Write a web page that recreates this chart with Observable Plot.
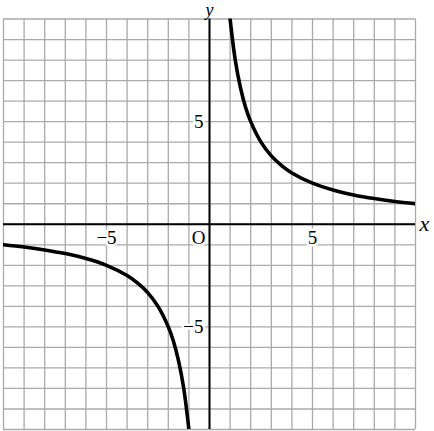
<!DOCTYPE html>
<html>
<head>
<meta charset="utf-8">
<script src="https://cdn.jsdelivr.net/npm/d3@7"></script>
<script src="https://cdn.jsdelivr.net/npm/@observablehq/plot@0.6"></script>
<style>
  html, body { margin: 0; padding: 0; background: #fff; }
</style>
</head>
<body>
<div id="chart"></div>
<script>
// Grid lines (unit squares)
const gridTicks = d3.range(-10, 11);

// Curve readings (right branch)
const rightX = [1, 1.25, 1.5, 1.75, 2, 2.5, 3, 3.5, 4, 5, 6, 7, 8, 9, 10];
const rightY = [10, 8, 6.67, 5.7, 5, 4, 3.33, 2.86, 2.5, 2, 1.67, 1.43, 1.25, 1.11, 1];
// Curve readings (left branch)
const leftX = [-10, -9, -8, -7, -6, -5, -4, -3.5, -3, -2.5, -2, -1.75, -1.5, -1.25, -1];
const leftY = [-1, -1.11, -1.25, -1.43, -1.67, -2, -2.5, -2.86, -3.33, -4, -5, -5.7, -6.67, -8, -10];

// Tick labels
const xTickValues = [-5, 5];
const xTickLabels = ["−5", "5"];
const yTickValues = [5, -5];
const yTickLabels = ["5", "−5"];

const rightBranch = rightX.map((x, i) => ({x, y: rightY[i]}));
const leftBranch = leftX.map((x, i) => ({x, y: leftY[i]}));
const xTicks = xTickValues.map((v, i) => ({v, label: xTickLabels[i]}));
const yTicks = yTickValues.map((v, i) => ({v, label: yTickLabels[i]}));

const serif = "'Liberation Serif', 'DejaVu Serif', serif";

const chart = Plot.plot({
  width: 434,
  height: 431,
  marginLeft: 3,
  marginRight: 19,
  marginTop: 18.5,
  marginBottom: 2,
  x: {domain: [-10, 10], axis: null},
  y: {domain: [-10, 10], axis: null},
  style: {background: "#fff", fontFamily: serif},
  marks: [
    Plot.ruleX(gridTicks, {stroke: "#aaaaaa", strokeWidth: 1.3}),
    Plot.ruleY(gridTicks, {stroke: "#aaaaaa", strokeWidth: 1.3}),
    Plot.ruleX([0], {stroke: "#000", strokeWidth: 2}),
    Plot.ruleY([0], {stroke: "#000", strokeWidth: 2}),
    Plot.line(rightBranch, {x: "x", y: "y", curve: "catmull-rom", stroke: "#000", strokeWidth: 3.6, clip: true}),
    Plot.line(leftBranch, {x: "x", y: "y", curve: "catmull-rom", stroke: "#000", strokeWidth: 3.6, clip: true}),
    Plot.text(xTicks, {x: "v", y: () => 0, text: "label", dy: 14, fontSize: 19, fill: "#000", stroke: "#fff", strokeWidth: 5, fontFamily: serif}),
    Plot.text(yTicks, {x: () => 0, y: "v", text: "label", dx: -6, textAnchor: "end", fontSize: 19, fill: "#000", stroke: "#fff", strokeWidth: 5, fontFamily: serif}),
    Plot.text(["O"], {x: () => 0, y: () => 0, text: d => d, dx: -4, dy: 14, textAnchor: "end", fontSize: 19, fill: "#000", stroke: "#fff", strokeWidth: 5, fontFamily: serif}),
    Plot.text(["x"], {x: () => 10, y: () => 0, text: d => d, dx: 4, textAnchor: "start", fontSize: 22, fontStyle: "italic", fill: "#000", fontFamily: serif}),
    Plot.text(["y"], {x: () => 0, y: () => 10, text: d => d, dy: -8.5, fontSize: 18, fontStyle: "italic", fill: "#000", fontFamily: serif})
  ]
});
document.getElementById("chart").appendChild(chart);
</script>
</body>
</html>
